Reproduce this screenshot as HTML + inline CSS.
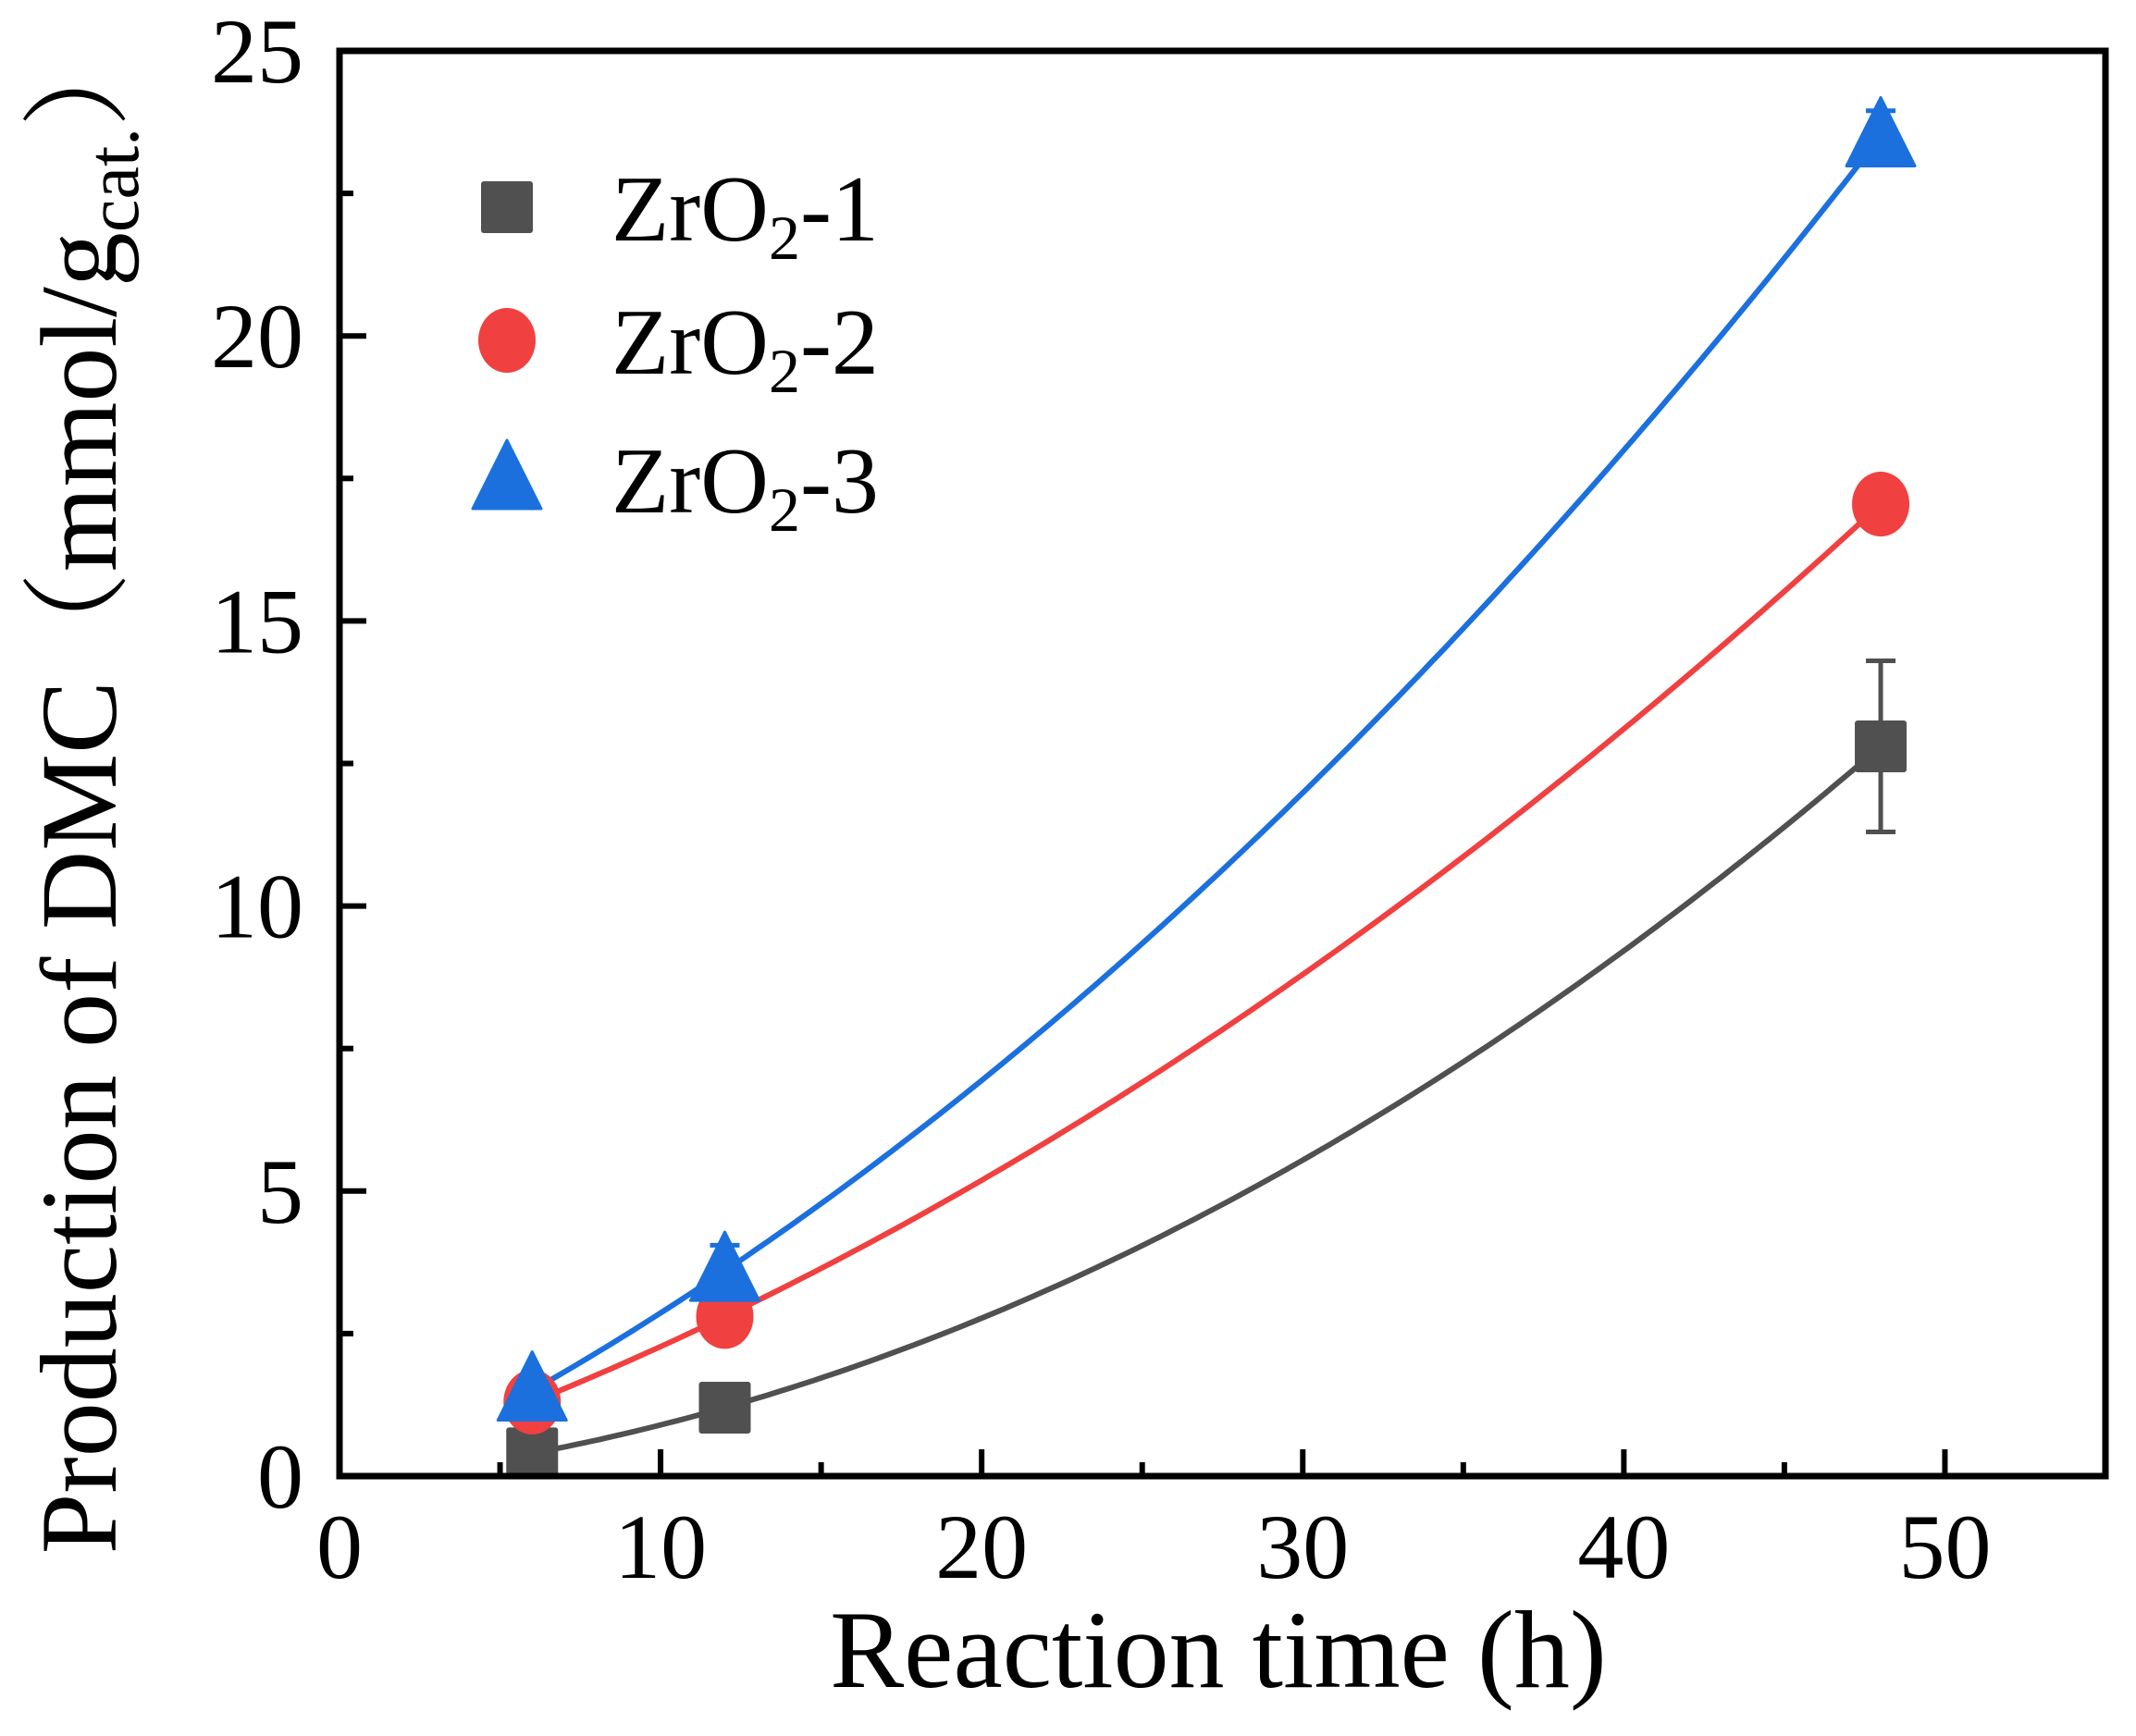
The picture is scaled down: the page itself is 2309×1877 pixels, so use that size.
<!DOCTYPE html>
<html><head><meta charset="utf-8"><style>
html,body{margin:0;padding:0;background:#fff}
svg{display:block}
text{font-family:"Liberation Serif","Times New Roman",serif;fill:#000}
.cjk{font-family:"Liberation Serif","Noto Serif CJK SC",serif}
</style></head><body>
<svg id="chart" width="2309" height="1877" viewBox="0 0 2309 1877" xmlns="http://www.w3.org/2000/svg">
<g id="plot"></g>
<text class="cjk" transform="translate(125,850) rotate(-90)" text-anchor="middle" font-size="118">Production of DMC（mmol/g<tspan font-size="80" dy="24">cat.</tspan><tspan dy="-24">）</tspan></text>
<text x="1317" y="1824" text-anchor="middle" font-size="120">Reaction time (h)</text>
</svg>
<script>
const xTicks=[0,10,20,30,40,50];
const yTicks=[0,5,10,15,20,25];
const seriesNames=["ZrO2-1","ZrO2-2","ZrO2-3"];
const times=[6,12,48];
const s1=[0.4,1.2,12.8];
const s2=[1.3,2.8,17.05];
const s3=[1.5,3.6,23.5];
const e1=[0.1,0.2,1.5];
const e2=[0.1,0.2,0.35];
const e3=[0.1,0.45,0.45];

const L=367,R=2276,T=55,B=1596;
const xMin=0,xMax=55,yMin=0,yMax=25;
const X=v=>L+(v-xMin)/(xMax-xMin)*(R-L);
const Y=v=>B-(v-yMin)/(yMax-yMin)*(B-T);
const NS="http://www.w3.org/2000/svg";
const plot=document.getElementById('plot');
function mk(tag,attrs,parent){const e=document.createElementNS(NS,tag);for(const k in attrs)e.setAttribute(k,attrs[k]);(parent||plot).appendChild(e);return e;}
const colors=["#505050","#f04040","#1b70de"];
const datas=[s1,s2,s3],errs=[e1,e2,e3];

function quad(xs,ys){
  const [x0,x1,x2]=xs,[y0,y1,y2]=ys;
  return x=>y0*(x-x1)*(x-x2)/((x0-x1)*(x0-x2))+y1*(x-x0)*(x-x2)/((x1-x0)*(x1-x2))+y2*(x-x0)*(x-x1)/((x2-x0)*(x2-x1));
}
datas.forEach((d,i)=>{
  const f=quad(times,d);let p="";
  for(let k=0;k<=120;k++){const x=times[0]+(times[2]-times[0])*k/120;p+=(k?"L":"M")+X(x).toFixed(1)+","+Y(f(x)).toFixed(1);}
  const c=mk('path',{d:p,fill:"none",stroke:colors[i],"stroke-width":6});
  
  
});
datas.forEach((d,i)=>{
  d.forEach((v,j)=>{
    const x=X(times[j]),e=errs[i][j];
    const g=mk('g',{});
    
    
    mk('path',{d:`M${x},${Y(v+e)}V${Y(v-e)}M${x-16},${Y(v+e)}H${x+16}M${x-16},${Y(v-e)}H${x+16}`,stroke:colors[i],"stroke-width":5,fill:"none"},g);
    marker(i,x,Y(v),g);
  });
});
function marker(i,x,y,g){
  if(i===0) mk('rect',{x:x-28,y:y-28,width:56,height:56,rx:3,fill:colors[0]},g);
  else if(i===1) mk('ellipse',{cx:x,cy:y,rx:31,ry:35,fill:colors[1]},g);
  else mk('path',{d:`M${x},${y-42}L${x+37},${y+32}H${x-37}Z`,fill:colors[2],"stroke-linejoin":"round",stroke:colors[2],"stroke-width":3},g);
}
const fr=mk('rect',{x:L,y:T,width:R-L,height:B-T,fill:"none",stroke:"#000","stroke-width":7});


for(let v=0;v<=55;v+=5){
  const major=v%10===0,x=X(v);
  mk('line',{x1:x,x2:x,y1:B,y2:B-(major?29:15),stroke:"#000","stroke-width":6});
}
xTicks.forEach(v=>{
  const t=mk('text',{x:X(v),y:1706,"text-anchor":"middle","font-size":100});
  t.textContent=v;
  
  
});
for(let v=0;v<=25;v+=2.5){
  const major=v%5===0,y=Y(v);
  mk('line',{x1:L,x2:L+(major?29:15),y1:y,y2:y,stroke:"#000","stroke-width":6});
}
yTicks.forEach(v=>{
  const t=mk('text',{x:328,y:Y(v)+34,"text-anchor":"end","font-size":100});
  t.textContent=v;
  
  
});
const ly=[224,368,518];
seriesNames.forEach((n,i)=>{
  const g=mk('g',{});
  
  
  marker(i,548,ly[i],g);
  const t=mk('text',{x:661,y:ly[i]+36,"font-size":102},g);
  t.innerHTML='ZrO<tspan font-size="68" dy="20">2</tspan><tspan dy="-20">-'+n.split('-')[1]+'</tspan>';
});
</script>
</body></html>
